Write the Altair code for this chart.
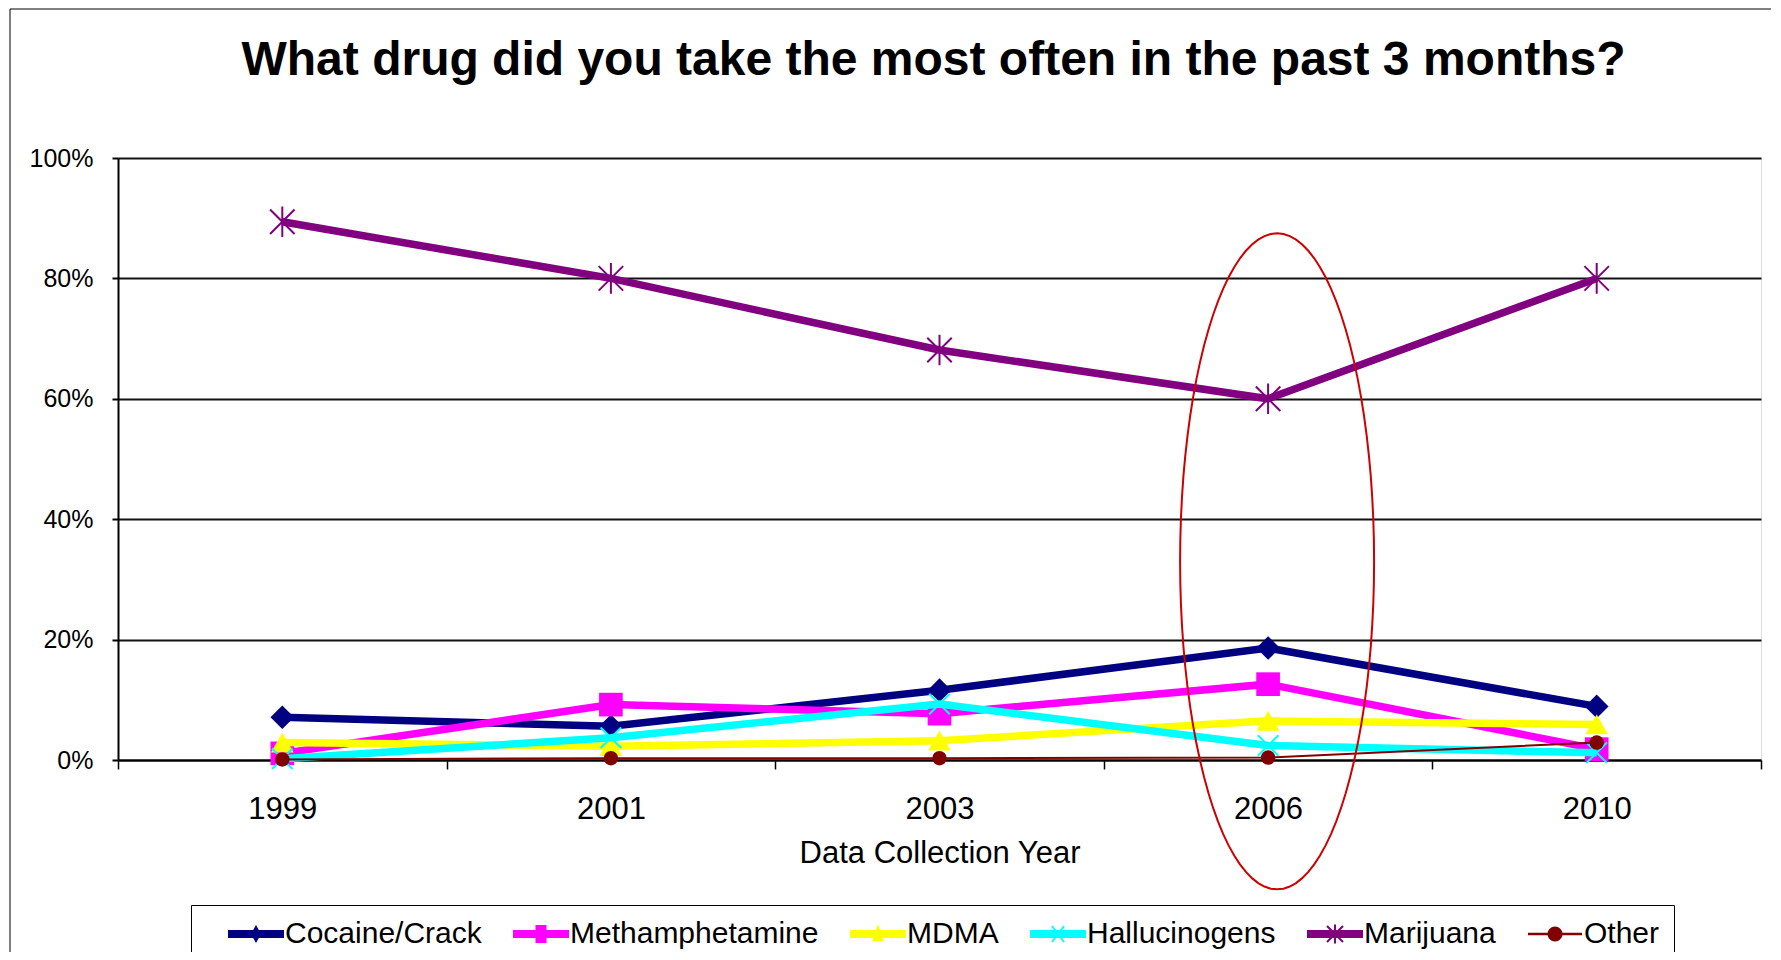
import math
import altair as alt
import pandas as pd

# ---------------- data ----------------
years = ["1999", "2001", "2003", "2006", "2010"]
series = ["Cocaine/Crack", "Methamphetamine", "MDMA", "Hallucinogens", "Marijuana", "Other"]
cocaine = [0.071, 0.056, 0.116, 0.186, 0.089]
meth = [0.011, 0.092, 0.077, 0.126, 0.018]
mdma = [0.029, 0.023, 0.032, 0.065, 0.059]
halluc = [0.002, 0.037, 0.093, 0.024, 0.012]
marijuana = [0.894, 0.800, 0.681, 0.600, 0.800]
other = [0.001, 0.003, 0.003, 0.004, 0.029]
y_ticks = [0, 0.2, 0.4, 0.6, 0.8, 1.0]
title_text = "What drug did you take the most often in the past 3 months?"
x_title = "Data Collection Year"
highlight_year = "2006"
highlight_center = 0.33

# ---------------- styles ----------------
colors = ["#000080", "#FF00FF", "#FFFF00", "#00FFFF", "#800080", "#800000"]
line_widths = [7.5, 7.5, 7.5, 7.5, 7.5, 2]
FONT = "Liberation Sans"


def poly(pts, scale=1.0):
    area = 0
    for i in range(len(pts)):
        x1, y1 = pts[i]
        x2, y2 = pts[(i + 1) % len(pts)]
        area += x1 * y2 - x2 * y1
    if area < 0:
        pts = pts[::-1]
    return "M" + "L".join(f"{x/scale:.4f},{y/scale:.4f}" for x, y in pts) + "Z"


def seg(x1, y1, x2, y2, w, scale):
    dx, dy = x2 - x1, y2 - y1
    ln = math.hypot(dx, dy)
    nx, ny = -dy / ln * w, dx / ln * w
    return poly([(x1 + nx, y1 + ny), (x2 + nx, y2 + ny), (x2 - nx, y2 - ny), (x1 - nx, y1 - ny)], scale)


def circ(r, scale, n=24):
    return poly([(r * math.cos(2 * math.pi * k / n), r * math.sin(2 * math.pi * k / n)) for k in range(n)], scale)


# legend symbols: thick line + marker (pixel units, r = 14 px per unit)
R = 14.0
bar = poly([(-28, -4), (28, -4), (28, 4), (-28, 4)], R)
thin_bar = poly([(-27, -1.2), (27, -1.2), (27, 1.2), (-27, 1.2)], R)
legend_paths = [
    bar + poly([(0, -9), (5, 0), (0, 9), (-5, 0)], R),
    bar + poly([(-5.5, -9), (5.5, -9), (5.5, 9), (-5.5, 9)], R),
    bar + poly([(0, -10), (6, 7), (-6, 7)], R),
    bar + seg(-6, -8, 6, 8, 1, R) + seg(-6, 8, 6, -8, 1, R),
    bar + seg(-8, -8, 8, 8, 1, R) + seg(-8, 8, 8, -8, 1, R) + seg(0, -9.5, 0, 9.5, 1, R),
    thin_bar + circ(7.5, R),
]

x_path = "M-1,-1L1,1M-1,1L1,-1"
star_path = "M-1,-1L1,1M-1,1L1,-1M0,-1.25L0,1.25"
marker_defs = [
    dict(shape="diamond", filled=True, size=560),
    dict(shape="square", filled=True, size=560),
    dict(shape="triangle-up", filled=True, size=520),
    dict(shape=x_path, filled=False, size=420, strokeWidth=2),
    dict(shape=star_path, filled=False, size=600, strokeWidth=2),
    dict(shape="circle", filled=True, size=210),
]

# ellipse annotation path (rx/ry ratio), stroked only
ell_ratio = 97.0 / 328.0
ellipse_path = "M" + "L".join(
    f"{ell_ratio*math.sin(2*math.pi*k/96):.4f},{-math.cos(2*math.pi*k/96):.4f}" for k in range(96)
) + "Z"

all_values = [cocaine, meth, mdma, halluc, marijuana, other]
rows = []
for s, vals in zip(series, all_values):
    for yr, v in zip(years, vals):
        rows.append({"Year": yr, "Drug": s, "Share": v})
df = pd.DataFrame(rows)

x_scale = alt.Scale(type="band", domain=years, paddingInner=0, paddingOuter=0)
y_scale = alt.Scale(domain=[0, 1], nice=False, zero=True)

x_enc = alt.X(
    "Year:O",
    scale=x_scale,
    title=x_title,
    axis=alt.Axis(
        labelAngle=0, tickBand="extent", tickSize=9, tickColor="black", tickWidth=1.5,
        domainColor="black", domainWidth=2, labelFontSize=31, labelFont=FONT,
        labelColor="black", labelPadding=25, titleFontSize=31, titleFont=FONT,
        titleFontWeight="normal", titleColor="black", titlePadding=14, grid=False,
    ),
)
y_enc = alt.Y(
    "Share:Q",
    scale=y_scale,
    title=None,
    axis=alt.Axis(
        values=y_ticks, format=".0%", tickSize=6, tickColor="black", tickWidth=2,
        domainColor="black", domainWidth=2, labelFontSize=25, labelFont=FONT,
        labelColor="black", labelPadding=19, grid=True, gridColor="#111111", gridWidth=2,
    ),
)

base = alt.Chart(df)

frame = alt.Chart(pd.DataFrame({"f": [0]})).mark_rect(
    fillOpacity=0, stroke="black", strokeWidth=1
).encode(x=alt.value(-108), x2=alt.value(1700), y=alt.value(-149), y2=alt.value(900))

layers = [frame]
for s, c, w, md in zip(series, colors, line_widths, marker_defs):
    sub = base.transform_filter(alt.datum.Drug == s)
    layers.append(sub.mark_line(color=c, strokeWidth=w, opacity=1).encode(x=x_enc, y=y_enc))
    layers.append(sub.mark_point(color=c, opacity=1, **md).encode(x=x_enc, y=y_enc))

leg = alt.Legend(
    title=None,
    orient="none", legendX=73, legendY=747, direction="horizontal", columns=6,
    symbolSize=784, symbolOffset=36, labelOffset=14, symbolStrokeWidth=0,
    labelFontSize=30, labelFont=FONT, labelColor="black", columnPadding=8,
    padding=14, strokeColor="black", symbolOpacity=1, labelLimit=500,
)
legend_layer = base.mark_point(filled=True, clip=True, opacity=1).encode(
    x=x_enc,
    y=alt.datum(-1),
    color=alt.Color("Drug:N", scale=alt.Scale(domain=series, range=colors), legend=leg),
    shape=alt.Shape("Drug:N", scale=alt.Scale(domain=series, range=legend_paths), legend=leg),
)
layers.append(legend_layer)

ellipse = alt.Chart(pd.DataFrame({"Year": [highlight_year], "Share": [highlight_center]})).mark_point(
    shape=ellipse_path, size=656 * 656, filled=False, stroke="#CC0000", strokeWidth=2,
    opacity=1, xOffset=9,
).encode(x=alt.X("Year:O", scale=x_scale), y=alt.Y("Share:Q", scale=y_scale))
layers.append(ellipse)

chart = alt.layer(*layers).properties(
    width=1643,
    height=602,
    padding={"left": 110, "top": 150, "right": 10, "bottom": 192},
    autosize=alt.AutoSizeParams(type="none"),
    title=alt.TitleParams(
        text=title_text, fontSize=48, font=FONT, fontWeight="bold", color="black",
        anchor="middle", frame="group", baseline="alphabetic", offset=-114, dx=-6,
    ),
).configure_view(
    fill="#C0C0C0", stroke="#808080", strokeWidth=1
).configure_legend(
    strokeWidth=2
).configure(background="white")

chart.save("out.html", embed_options={"renderer": "svg", "actions": False})
